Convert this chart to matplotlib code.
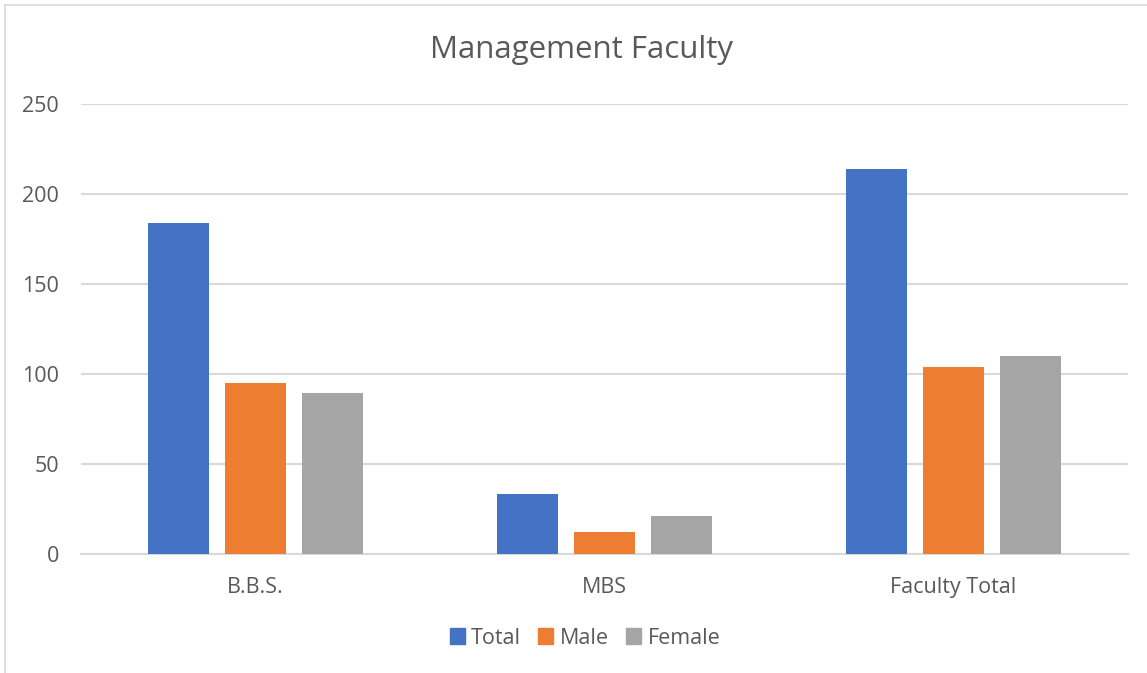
import matplotlib
matplotlib.use("Agg")
import matplotlib.pyplot as plt
from matplotlib.lines import Line2D
import numpy as np

categories = ["B.B.S.", "MBS", "Faculty Total"]
series_names = ["Total", "Male", "Female"]
total = [184, 33, 214]
male = [95, 12, 104]
female = [89, 21, 110]
yticks = [0, 50, 100, 150, 200, 250]

colors = ["#4472C4", "#ED7D31", "#A5A5A5"]
text_color = "#595959"
grid_color = "#D9D9D9"

plt.rcParams['font.family'] = ['Open Sans', 'DejaVu Sans']

W, H = 1147, 673
fig = plt.figure(figsize=(W / 100, H / 100), dpi=100)
ax = fig.add_axes([81 / W, 1 - 553.5 / H, (1128 - 81) / W, (553.5 - 104) / H])

x = np.arange(len(categories))
bw = 61 / 349
step = 77 / 349
for i, (name, vals) in enumerate(zip(series_names, [total, male, female])):
    ax.bar(x + (i - 1) * step, vals, width=bw, color=colors[i], label=name, zorder=3)

ax.set_xlim(-0.5, len(categories) - 0.5)
ax.set_ylim(0, 250)
ax.set_yticks(yticks)
ax.set_yticklabels([str(t) for t in yticks])
ax.set_xticks(x)
ax.set_xticklabels(categories)
ax.grid(axis='y', color=grid_color, linewidth=1.5, zorder=0)
ax.set_axisbelow(True)
for s in ['top', 'right', 'left']:
    ax.spines[s].set_visible(False)
ax.spines['bottom'].set_color(grid_color)
ax.spines['bottom'].set_linewidth(1.5)
ax.tick_params(axis='both', length=0, colors=text_color, labelsize=15.5)
ax.tick_params(axis='y', pad=16)
ax.tick_params(axis='x', pad=17)

fig.text(581 / W, 1 - 50 / H, "Management Faculty", ha='center', va='center',
         fontsize=22.5, color=text_color)

handles = [plt.Rectangle((0, 0), 1, 1, color=c) for c in colors]
leg = fig.legend(handles, series_names, loc='center', bbox_to_anchor=(585 / W, 1 - 638 / H),
                 ncol=3, frameon=False, fontsize=15.5, handlelength=0.7, handleheight=0.7,
                 handletextpad=0.3, columnspacing=0.8)
for t in leg.get_texts():
    t.set_color(text_color)

# chart border (left and top visible)
fig.add_artist(Line2D([5 / W, 5 / W], [0, 1 - 5 / H], transform=fig.transFigure,
                      color=grid_color, linewidth=1.2))
fig.add_artist(Line2D([5 / W, 1], [1 - 5 / H, 1 - 5 / H], transform=fig.transFigure,
                      color=grid_color, linewidth=1.2))

fig.savefig("out.png", dpi=100, facecolor="white")
